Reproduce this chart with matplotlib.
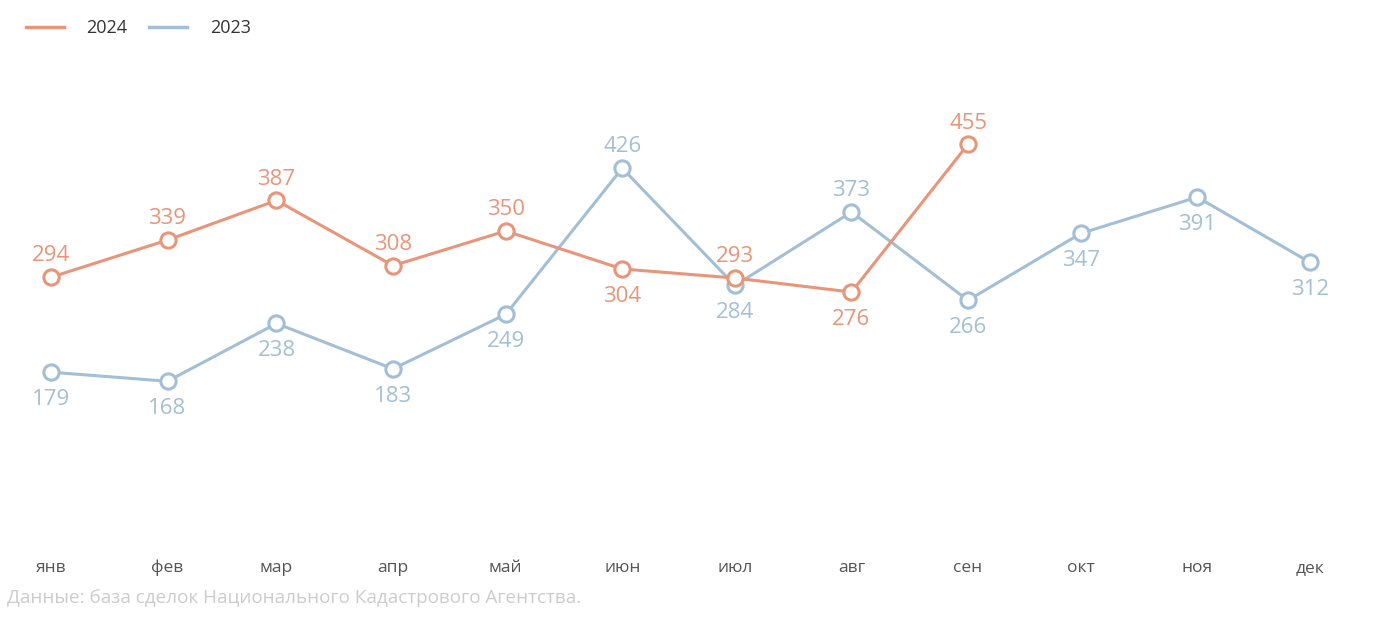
import matplotlib
matplotlib.use("Agg")
import matplotlib.pyplot as plt
import matplotlib.dates as mdates
from datetime import datetime
from matplotlib.lines import Line2D

months = ["янв", "фев", "мар", "апр", "май", "июн", "июл", "авг", "сен", "окт", "ноя", "дек"]
vals_2024 = [294, 339, 387, 308, 350, 304, 293, 276, 455]
vals_2023 = [179, 168, 238, 183, 249, 426, 284, 373, 266, 347, 391, 312]
# label placement: 1 above, -1 below
pos_2024 = [1, 1, 1, 1, 1, -1, 1, -1, 1]
pos_2023 = [-1, -1, -1, -1, -1, 1, -1, 1, -1, -1, -1, -1]

c24 = "#E8957A"
c23 = "#A3BFD6"

dates = [datetime(2024, m, 1) for m in range(1, 13)]
xd = mdates.date2num(dates)

W, H = 1388, 624
fig = plt.figure(figsize=(W / 100, H / 100), dpi=100)
bot_px, top_px = 548, 60
ax = fig.add_axes([51 / W, 1 - bot_px / H, (1310 - 51) / W, (bot_px - top_px) / H])
ppu = 237 / 287.0
y0_px = 520
ax.set_xlim(xd[0], xd[-1])
ax.set_ylim((y0_px - bot_px) / ppu, (y0_px - top_px) / ppu)
for s in ax.spines.values():
    s.set_visible(False)
ax.set_yticks([])
ax.set_xticks(xd)
ax.set_xticklabels(months, fontsize=12.5, color="#555555", family="Open Sans")
ax.tick_params(axis="x", length=0, pad=8.5)

def draw(vals, color, pos, label):
    x = xd[:len(vals)]
    ax.plot(x, vals, color=color, lw=2.2, marker="o", ms=11, mfc="white",
            mec=color, mew=2.2, clip_on=False, label=label, zorder=3)
    for xi, v, p in zip(x, vals, pos):
        off = 15.3 if p > 0 else -19.7
        ax.annotate(str(v), (xi, v), xytext=(0, off), textcoords="offset points",
                    ha="center", va="center", fontsize=16, color=color,
                    family="Open Sans")

draw(vals_2023, c23, pos_2023, "2023")
draw(vals_2024, c24, pos_2024, "2024")

handles = [Line2D([], [], color=c24, lw=2.5), Line2D([], [], color=c23, lw=2.5)]
leg = fig.legend(handles, ["2024", "2023"], loc="upper left", bbox_to_anchor=(0.007, 0.995),
                 ncol=2, frameon=False, handlelength=2.1, columnspacing=1.2,
                 handletextpad=1.25, prop={"family": "Open Sans", "size": 13})
for t in leg.get_texts():
    t.set_color("#333333")

fig.text(7 / W, 1 - 598 / H, "Данные: база сделок Национального Кадастрового Агентства.",
         fontsize=13.6, color="#CCCCCC", family="Open Sans", ha="left", va="center")

fig.savefig("out.png", dpi=100)
